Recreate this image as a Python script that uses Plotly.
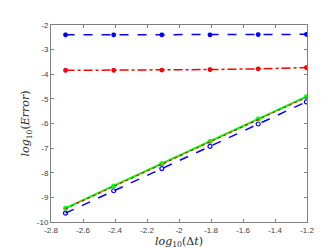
import plotly.graph_objects as go

log_dt = [-2.7093, -2.4082, -2.1072, -1.8062, -1.5051, -1.2041]
err_blue_top = [-2.40, -2.40, -2.40, -2.40, -2.39, -2.38]
err_red_top = [-3.84, -3.84, -3.83, -3.81, -3.78, -3.73]
err_green = [-9.44, -8.54, -7.63, -6.73, -5.82, -4.91]
err_red_dot = [-9.46, -8.56, -7.65, -6.75, -5.84, -4.94]
err_blue_bot = [-9.64, -8.73, -7.83, -6.93, -6.02, -5.12]

x_ticks = [-2.8, -2.6, -2.4, -2.2, -2.0, -1.8, -1.6, -1.4, -1.2]
x_tick_text = ["-2.8", "-2.6", "-2.4", "-2.2", "-2", "-1.8", "-1.6", "-1.4", "-1.2"]
y_ticks = [-10, -9, -8, -7, -6, -5, -4, -3, -2]
y_tick_text = ["-10", "-9", "-8", "-7", "-6", "-5", "-4", "-3", "-2"]

fig = go.Figure()
fig.add_trace(go.Scatter(x=log_dt, y=err_blue_top, mode="lines+markers",
                         line=dict(color="#0000ff", width=1.5, dash="dash"),
                         marker=dict(symbol="asterisk", size=4, color="#0000ff",
                                     line=dict(color="#0000ff", width=1.5))))
fig.add_trace(go.Scatter(x=log_dt, y=err_red_top, mode="lines+markers",
                         line=dict(color="#ff0000", width=1.5, dash="dashdot"),
                         marker=dict(symbol="asterisk", size=4, color="#ff0000",
                                     line=dict(color="#ff0000", width=1.5))))
fig.add_trace(go.Scatter(x=log_dt, y=err_blue_bot, mode="lines+markers",
                         line=dict(color="#0000ff", width=1.5, dash="dash"),
                         marker=dict(symbol="circle-open", size=4, color="#0000ff",
                                     line=dict(color="#0000ff", width=1.2))))
fig.add_trace(go.Scatter(x=log_dt, y=err_green, mode="lines+markers",
                         line=dict(color="#00ff00", width=2),
                         marker=dict(symbol="circle", size=5, color="#00ff00")))
fig.add_trace(go.Scatter(x=log_dt, y=err_red_dot, mode="lines",
                         line=dict(color="#ff0000", width=1.2, dash="dot")))

axis_common = dict(showline=True, linecolor="#808080", linewidth=1, mirror="ticks",
                   ticks="inside", ticklen=3, tickcolor="#808080", showgrid=False,
                   zeroline=False, tickfont=dict(family="Liberation Sans", size=8, color="#404040"))
fig.update_xaxes(range=[-2.8, -1.2], tickvals=x_ticks, ticktext=x_tick_text,
                 title=dict(text="<i>log</i><sub>10</sub>(Δ<i>t</i>)",
                            font=dict(family="DejaVu Serif", size=11, color="#262626"),
                            standoff=2), **axis_common)
fig.update_yaxes(range=[-10, -2], tickvals=y_ticks, ticktext=y_tick_text,
                 title=dict(text="<i>log</i><sub>10</sub>(<i>Error</i>)",
                            font=dict(family="DejaVu Serif", size=11, color="#262626"),
                            standoff=4), **axis_common)
fig.update_layout(width=331, height=248, showlegend=False,
                  margin=dict(l=43, r=32, t=17, b=28),
                  paper_bgcolor="white", plot_bgcolor="white")
fig.write_html("out.html")
